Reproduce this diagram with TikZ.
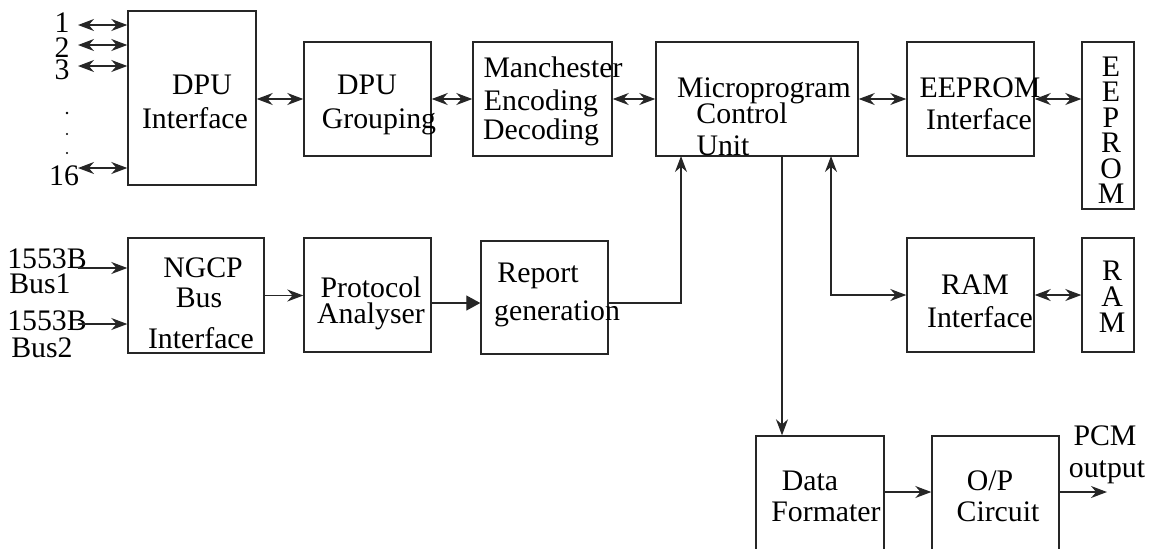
\documentclass[tikz,border=0pt]{standalone}
\usepackage{fontspec}
\setmainfont{Liberation Serif}
\usetikzlibrary{fit,arrows.meta}
\begin{document}
\begin{tikzpicture}[x=0.5pt,y=-0.5pt,
  >={Stealth[length=8pt,width=6pt,inset=2.6pt]},
  blk/.style={draw=black!85, line width=0.7pt, inner sep=0pt},
  lbl/.style={anchor=base, inner sep=0pt, font=\fontsize{14.9}{17}\selectfont},
  con/.style={draw=black!85, line width=0.65pt}]
\useasboundingbox (0,0) rectangle (1156,548);
\clip (0,0) rectangle (1156,548);
% boxes
\node[blk, fit={(128,11) (256,185)}] (dpui) {};
\node[blk, fit={(304,42) (431,156)}] (dpug) {};
\node[blk, fit={(473,42) (612,156)}] (manc) {};
\node[blk, fit={(656,42) (858,156)}] (micro) {};
\node[blk, fit={(907,42) (1034,156)}] (eepi) {};
\node[blk, fit={(1082,42) (1134,209)}] (eeprom) {};
\node[blk, fit={(128,238) (264,353)}] (ngcp) {};
\node[blk, fit={(304,238) (431,352)}] (prot) {};
\node[blk, fit={(481,241) (608,354)}] (rep) {};
\node[blk, fit={(907,238) (1034,352)}] (rami) {};
\node[blk, fit={(1082,238) (1134,352)}] (ram) {};
\node[blk, fit={(756,436) (884,570)}] (df) {};
\node[blk, fit={(932,436) (1059,570)}] (op) {};
% labels
\node[lbl] (t1) at (62,32) {1};
\node[lbl] (t2) at (62,57) {2};
\node[lbl] (t3) at (62,79) {3};
\fill[black] (67,113) circle[radius=1.3] (67,134) circle[radius=1.1] (67,153) circle[radius=1.1];
\node[lbl] (t16) at (64,185) {16};
\node[lbl] at (202,94) {DPU};
\node[lbl] at (195,128) {Interface};
\node[lbl] at (367,94) {DPU};
\node[lbl] at (379,128) {Grouping};
\node[lbl] at (553,77) {Manchester};
\node[lbl] at (541,110) {Encoding};
\node[lbl] at (541,139) {Decoding};
\node[lbl] at (764,97) {Microprogram};
\node[lbl] at (742,123) {Control};
\node[lbl] at (723,155) {Unit};
\node[lbl] at (980,97) {EEPROM};
\node[lbl] at (979,129) {Interface};
\foreach \c/\yy in {E/76,E/101,P/127,R/152,O/178,M/203}
  \node[lbl] at (1111,\yy) {\c};
\node[lbl] at (975,294) {RAM};
\node[lbl] at (980,327) {Interface};
\foreach \c/\yy in {R/280,A/306,M/332}
  \node[lbl] at (1112,\yy) {\c};
\node[lbl] at (47,268) {1553B};
\node[lbl] at (40,293) {Bus1};
\node[lbl] at (47,330) {1553B};
\node[lbl] at (42,357) {Bus2};
\node[lbl] at (203,277) {NGCP};
\node[lbl] at (199,307) {Bus};
\node[lbl] at (201,348) {Interface};
\node[lbl] at (371,297) {Protocol};
\node[lbl] at (371,323) {Analyser};
\node[lbl] at (538,282) {Report};
\node[lbl] at (557,320) {generation};
\node[lbl] at (810,490) {Data};
\node[lbl] at (826,521) {Formater};
\node[lbl] at (990,490) {O/P};
\node[lbl] at (998,521) {Circuit};
\node[lbl] at (1105,445) {PCM};
\node[lbl] at (1107,477) {output};
% free-end coordinates
\coordinate (i1) at (78,25);
\coordinate (i2) at (78,45);
\coordinate (i3) at (78,66);
\coordinate (i16) at (78,168);
\coordinate (b1) at (78,268);
\coordinate (b2) at (78,324);
\coordinate (pr) at (431,303);
\coordinate (mu1) at (681,156);
\coordinate (mu2) at (831,156);
\coordinate (mu3) at (782,156);
\coordinate (dfo) at (884,492);
\coordinate (pcm) at (1107,492);
% connectors
\foreach \p in {i1,i2,i3,i16}
  \draw[con,<->] (\p) -- (\p -| dpui.west);
\draw[con,<->] (dpui.east |- dpug.west) -- (dpug.west);
\draw[con,<->] (dpug.east) -- (manc.west);
\draw[con,<->] (manc.east) -- (micro.west);
\draw[con,<->] (micro.east) -- (eepi.west);
\draw[con,<->] (eepi.east) -- (eepi.east -| eeprom.west);
\draw[con,->] (b1) -- (b1 -| ngcp.west);
\draw[con,->] (b2) -- (b2 -| ngcp.west);
\draw[con,->] (ngcp.east) -- (ngcp.east -| prot.west);
\draw[con,-{Triangle[length=7pt,width=7.5pt]}] (pr) -- (pr -| rep.west);
\draw[con,->] (pr -| rep.east) -| (mu1);
\draw[con,<->] (mu2) |- (rami.west);
\draw[con,->] (mu3) -- (mu3 |- df.north);
\draw[con,<->] (rami.east) -- (ram.west);
\draw[con,->] (dfo) -- (dfo -| op.west);
\draw[con,->] (dfo -| op.east) -- (pcm);
\end{tikzpicture}
\end{document}
